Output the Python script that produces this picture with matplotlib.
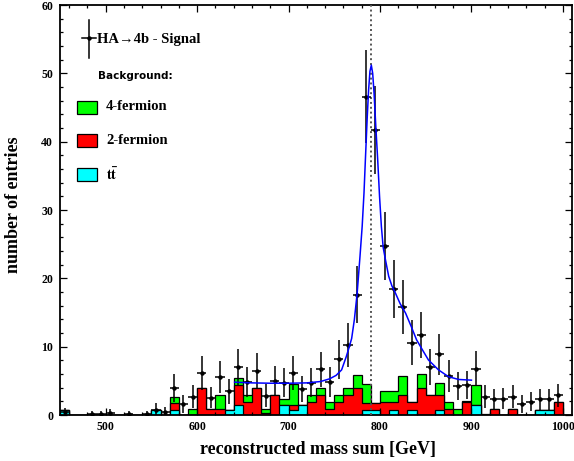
import numpy as np
import matplotlib.pyplot as plt
from matplotlib.patches import Rectangle
from matplotlib.lines import Line2D
from matplotlib.ticker import MultipleLocator

plt.rcParams['mathtext.fontset'] = 'stix'

# === Data ===
# 10 GeV bins from 450 to 1010 GeV
bin_edges = np.arange(450, 1011, 10)
bin_centers = bin_edges[:-1] + 5

signal = [0.4, 0, 0, 0.15, 0.15, 0.3, 0, 0.2, 0, 0.2,
          0.8, 0.45, 3.95, 1.6, 2.7, 6.2, 2.55, 5.5, 3.45, 7.0,
          4.8, 6.5, 2.8, 5.0, 4.75, 6.2, 3.8, 4.75, 6.7, 4.8,
          8.15, 10.2, 17.6, 46.6, 41.7, 24.8, 18.45, 15.8, 10.6, 11.7,
          7.0, 8.9, 5.7, 4.25, 4.4, 6.8, 2.7, 2.3, 2.4, 2.7,
          1.6, 1.95, 2.3, 2.3, 2.9, 0]

ttbar = [0.7, 0, 0, 0, 0, 0, 0, 0, 0, 0,
         0.7, 0, 0.7, 0, 0, 0, 0, 0, 0.7, 1.4,
         0, 0, 0, 0, 1.4, 0.7, 1.4, 0, 0, 0,
         0, 0, 0, 0.7, 0.7, 0, 0.7, 0, 0.7, 0,
         0, 0.7, 0, 0, 0, 1.4, 0, 0, 0, 0,
         0, 0, 0.7, 0.7, 0, 0]

two_fermion = [0, 0, 0, 0, 0, 0, 0, 0, 0, 0,
               0, 0, 1.0, 0, 0, 3.9, 0.9, 0.9, 0, 2.95,
               1.9, 3.9, 0.3, 2.9, 0, 0.8, 0, 1.9, 2.9, 0.9,
               1.9, 2.9, 3.9, 1.1, 1.1, 1.9, 1.2, 2.9, 1.2, 3.9,
               2.9, 2.2, 0.9, 0, 1.9, 0, 0, 0.9, 0, 0.9,
               0, 0, 0, 0, 1.9, 0]

four_fermion = [0, 0, 0, 0, 0, 0, 0, 0, 0, 0,
                0, 0, 1.0, 0, 0.9, 0, 0, 2.0, 0, 1.05,
                1.0, 0, 0.6, 0, 1.0, 3.05, 0, 1.0, 1.0, 1.0,
                1.0, 1.0, 2.0, 2.8, 0, 1.65, 1.65, 2.85, 0, 2.05,
                0, 1.85, 1.0, 0.9, 0.2, 2.95, 0.1, 0, 0, 0,
                0, 0, 0, 0, 0, 0]

# fitted signal shape, read point by point
fit_mass = [641, 660, 680, 700, 720, 735, 745, 752, 758, 763, 766, 769, 772,
            775, 778, 780.5, 782.5, 784, 786, 787.5, 789, 790.5, 792, 793.5,
            795.5, 797.5, 799.5, 801.5, 803.5, 806, 809.5, 813, 817, 822, 828,
            834, 840, 847, 853, 864, 875, 886, 900]
fit_val = [4.8, 4.7, 4.65, 4.65, 4.7, 4.9, 5.3, 5.8, 6.6, 8.5, 9.8, 11.2, 14.0,
           17.8, 23.0, 27.6, 32.5, 37.3, 43.5, 47.5, 50.3, 51.2, 50.0, 47.1,
           42.0, 37.3, 32.0, 27.6, 24.5, 22.7, 20.3, 18.9, 17.8, 16.3, 14.9,
           13.0, 11.0, 9.4, 8.05, 6.6, 5.6, 5.2, 5.1]

peak_mass = 790.5

# === Figure ===
W, H = 574, 461
fig = plt.figure(figsize=(W / 100, H / 100), dpi=100)
ax = fig.add_axes([60 / W, 46 / H, 512 / W, 410 / H])

serif = ['Liberation Serif', 'DejaVu Serif']

tt = np.array(ttbar)
tt_2f = tt + np.array(two_fermion)
total = tt_2f + np.array(four_fermion)

ax.stairs(total, bin_edges, fill=True, facecolor='#00ff00', edgecolor='black', linewidth=0.9)
ax.stairs(tt_2f, bin_edges, fill=True, facecolor='#ff0000', edgecolor='black', linewidth=0.9)
ax.stairs(tt, bin_edges, fill=True, facecolor='#00ffff', edgecolor='black', linewidth=0.9)

sig = np.array(signal)
mask = sig > 0
ax.errorbar(bin_centers[mask], sig[mask], yerr=np.sqrt(sig[mask]), xerr=5,
            fmt='o', color='black', ms=2.2, elinewidth=1.1, capsize=0, zorder=4)

ax.plot(fit_mass, fit_val, color='#0000ff', lw=1.1, zorder=5)
ax.axvline(peak_mass, color='#555555', lw=1.4, linestyle=(0, (1, 1.5)), zorder=3)

ax.set_xlim(450, 1010)
ax.set_ylim(0, 60)
ax.xaxis.set_major_locator(MultipleLocator(100))
ax.xaxis.set_minor_locator(MultipleLocator(20))
ax.yaxis.set_major_locator(MultipleLocator(10))
ax.yaxis.set_minor_locator(MultipleLocator(2))
ax.tick_params(which='both', direction='in', top=True, right=True, width=0.9)
ax.tick_params(which='major', length=5)
ax.tick_params(which='minor', length=2.5)
ax.tick_params(axis='x', pad=4)
ax.tick_params(axis='y', pad=5)
for lab in ax.get_xticklabels() + ax.get_yticklabels():
    lab.set_family(serif)
    lab.set_fontweight('bold')
    lab.set_fontsize(8.5)
for sp in ax.spines.values():
    sp.set_linewidth(1.3)

fig.text(318 / W, 1 - 449 / H, 'reconstructed mass sum [GeV]', family=serif,
         fontweight='bold', fontsize=13, ha='center', va='center')
fig.text(14 / W, 1 - 205 / H, 'number of entries', family=serif,
         fontweight='bold', fontsize=13, ha='center', va='center', rotation=90)

# === Hand-made legend ===
def fx(px):
    return px / W


def fy(py):
    return 1 - py / H


fig.add_artist(Line2D([fx(89), fx(89)], [fy(20), fy(58)], color='black', lw=1.1))
fig.add_artist(Line2D([fx(82), fx(96)], [fy(38), fy(38)], color='black', lw=1.1))
fig.add_artist(Line2D([fx(89)], [fy(38)], marker='o', ms=2.2, color='black'))
fig.text(fx(97), fy(39), 'HA\u21924b - Signal', family=serif, fontweight='bold',
         fontsize=10.5, va='center', ha='left')
fig.text(fx(98), fy(76), 'Background:', family='DejaVu Sans', fontweight='bold',
         fontsize=7.5, va='center', ha='left')

boxes = [('#00ff00', '4-fermion', 107), ('#ff0000', '2-fermion', 141),
         ('#00ffff', r'$\mathbf{t\bar{t}}$', 175)]
for col, lab, yc in boxes:
    fig.add_artist(Rectangle((fx(77), fy(yc + 6.5)), 20 / W, 13 / H,
                             facecolor=col, edgecolor='black', lw=0.9))
    fig.text(fx(106), fy(yc), lab, family=serif, fontweight='bold',
             fontsize=10.5, va='center', ha='left')

fig.savefig('out.png', dpi=100)
